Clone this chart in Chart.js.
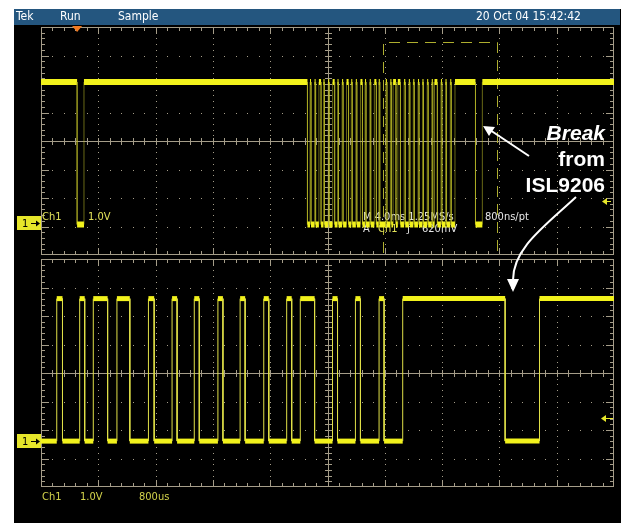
<!DOCTYPE html>
<html>
<head>
<meta charset="utf-8">
<script src="https://cdn.jsdelivr.net/npm/chart.js@4"></script>
<style>
  html, body { margin: 0; padding: 0; background: #fff; }
  #wrap { position: relative; width: 621px; height: 523px; }
  #screen { position: absolute; left: 14px; top: 9px; width: 607px; height: 514px; background: #000; }
  canvas { position: absolute; left: 0; top: 0; }
</style>
</head>
<body>
<div id="wrap">
  <div id="screen"></div>
  <canvas id="topChart" width="621" height="523"></canvas>
  <canvas id="bottomChart" width="621" height="523"></canvas>
</div>
<script>
// main timebase: 4 ms/div over 10 divisions (ms)
const mainRange = [0, 40];
// zoom window: 800 us/div (ms)
const zoomRange = [23.85, 31.85];

// logic levels (V)
const highV = 5.0;
const lowV = 0.0;

// line is high except between these times (ms)
const lowStarts = [2.52, 18.60, 18.85, 19.17, 19.55, 19.79, 20.12, 20.50, 20.77, 21.09, 21.47, 21.73,
  22.05, 22.44, 22.69, 23.02, 23.41, 23.65, 24.15, 24.46, 24.78, 25.09, 25.43, 25.75, 26.06, 26.39,
  26.70, 27.03, 27.35, 27.67, 27.99, 28.31, 28.64, 30.33];
const lowEnds = [3.00, 18.78, 19.10, 19.40, 19.72, 20.05, 20.36, 20.70, 21.02, 21.33, 21.66, 21.98,
  22.30, 22.62, 22.95, 23.27, 23.58, 24.07, 24.39, 24.58, 24.91, 25.35, 25.68, 25.99, 26.32, 26.63,
  26.96, 27.28, 27.47, 27.92, 28.24, 28.57, 28.90, 30.81];

// 1 V/div, 8 divisions, ground marker offset differs per window
const mainVolts = [-1.07, 6.93];
const zoomVolts = [-1.61, 6.39];

const yellow = '#f2f21c';
const gridColor = '#a59d89';
const scopeFont = '"Liberation Sans Narrow", "DejaVu Sans Condensed", sans-serif';

// build stepped trace
const wave = [{x: mainRange[0], y: highV}];
lowStarts.forEach((s, i) => {
    wave.push({x: s, y: highV}, {x: s, y: lowV}, {x: lowEnds[i], y: lowV}, {x: lowEnds[i], y: highV});
});
wave.push({x: mainRange[1], y: highV});

// graticule: dotted grid, centre cross and framed edges with ticks
const graticule = {
    id: 'graticule',
    beforeDatasetsDraw(chart) {
        const {ctx, chartArea: a} = chart;
        const dx = (a.right - a.left) / 10, dy = (a.bottom - a.top) / 8;
        const L = Math.round(a.left), R = Math.round(a.right) - 1;
        const T = Math.round(a.top), B = Math.round(a.bottom) - 1;
        const cx = Math.round(a.left + 5 * dx), cy = Math.round(a.top + 4 * dy);
        ctx.save();
        ctx.fillStyle = gridColor;
        for (let i = 1; i < 10; i++) {
            if (i === 5) continue;
            const x = Math.round(a.left + i * dx);
            for (let k = 1; k < 40; k++) ctx.fillRect(x, Math.round(a.top + k * dy / 5), 1, 1);
        }
        for (let j = 1; j < 8; j++) {
            if (j === 4) continue;
            const y = Math.round(a.top + j * dy);
            for (let k = 1; k < 50; k++) ctx.fillRect(Math.round(a.left + k * dx / 5), y, 1, 1);
        }
        // frame + centre lines
        ctx.fillRect(L, T, R - L + 1, 1);
        ctx.fillRect(L, B, R - L + 1, 1);
        ctx.fillRect(L, T, 1, B - T + 1);
        ctx.fillRect(R, T, 1, B - T + 1);
        ctx.fillRect(L, cy, R - L + 1, 1);
        ctx.fillRect(cx, T, 1, B - T + 1);
        // ticks along x
        for (let k = 1; k < 50; k++) {
            const x = Math.round(a.left + k * dx / 5);
            const len = k % 5 === 0 ? 7 : 4;
            ctx.fillRect(x, T, 1, len);
            ctx.fillRect(x, B - len + 1, 1, len);
            ctx.fillRect(x, cy - 3, 1, 7);
        }
        // ticks along y
        for (let k = 1; k < 40; k++) {
            const y = Math.round(a.top + k * dy / 5);
            const len = k % 5 === 0 ? 8 : 4;
            ctx.fillRect(L, y, len, 1);
            ctx.fillRect(R - len + 1, y, len, 1);
            ctx.fillRect(cx - 3, y, 7, 1);
        }
        ctx.restore();
    }
};

function groundMarker(ctx, y) {
    ctx.fillStyle = '#e6e62a';
    ctx.fillRect(17, y - 7, 24, 14);
    ctx.fillStyle = '#000';
    ctx.font = '11px ' + scopeFont;
    ctx.textBaseline = 'middle';
    ctx.textAlign = 'left';
    ctx.fillText('1', 22, y + 1);
    ctx.fillRect(31, y, 7, 1);
    ctx.beginPath();
    ctx.moveTo(40, y + 0.5); ctx.lineTo(36, y - 2.5); ctx.lineTo(36, y + 3.5); ctx.closePath();
    ctx.fill();
}

function triggerArrow(ctx, x1, x2, y) {
    ctx.fillStyle = '#e6e62a';
    ctx.fillRect(x1 + 3, y, x2 - x1 - 3, 1);
    ctx.beginPath();
    ctx.moveTo(x1, y + 0.5); ctx.lineTo(x1 + 5, y - 3); ctx.lineTo(x1 + 5, y + 4); ctx.closePath();
    ctx.fill();
}

const mainLabels = {
    id: 'mainLabels',
    beforeDatasetsDraw(chart) {
        const {ctx, chartArea: a, scales} = chart;
        ctx.save();
        // zoom window outline
        const zx0 = Math.round(scales.x.getPixelForValue(zoomRange[0])) + 0.5;
        const zx1 = Math.round(scales.x.getPixelForValue(zoomRange[1])) + 0.5;
        ctx.strokeStyle = '#aeae2e';
        ctx.lineWidth = 1;
        ctx.setLineDash([11, 7]);
        ctx.beginPath();
        ctx.moveTo(zx0, a.bottom - 2); ctx.lineTo(zx0, 42.5); ctx.lineTo(zx1, 42.5); ctx.lineTo(zx1, a.bottom - 2);
        ctx.stroke();
        ctx.setLineDash([]);

        ctx.font = '11px ' + scopeFont;
        ctx.textBaseline = 'alphabetic';
        ctx.textAlign = 'left';
        ctx.fillStyle = '#e2e25a';
        ctx.fillText('Ch1', 42, 220);
        ctx.fillText('1.0V', 88, 220);
        ctx.fillStyle = '#e8e8e8';
        ctx.fillText('M 4.0ms 1.25MS/s', 363, 220);
        ctx.fillText('800ns/pt', 485, 220);
        ctx.fillText('A', 363, 232);
        ctx.fillStyle = '#e2e25a';
        ctx.fillText('Ch1', 378, 232);
        ctx.fillStyle = '#e8e8e8';
        ctx.fillText('\u0192', 407, 232);
        ctx.fillText('620mV', 422, 232);

        groundMarker(ctx, 223);
        triggerArrow(ctx, 602, 611, 201);
        ctx.restore();
    },
    afterDraw(chart) {
        const {ctx} = chart;
        ctx.save();
        // status bar
        ctx.fillStyle = '#24567f';
        ctx.fillRect(14, 9, 606, 16);
        ctx.fillStyle = '#fff';
        ctx.font = '12px ' + scopeFont;
        ctx.textBaseline = 'middle';
        ctx.textAlign = 'left';
        ctx.fillText('Tek', 16, 17);
        ctx.fillText('Run', 60, 17);
        ctx.fillText('Sample', 118, 17);
        ctx.fillText('20 Oct 04 15:42:42', 476, 17);
        // trigger position
        ctx.fillStyle = '#f07a22';
        ctx.beginPath();
        const tx = chart.scales.x.getPixelForValue(lowStarts[0]);
        ctx.moveTo(tx - 5, 26); ctx.lineTo(tx + 5, 26); ctx.lineTo(tx, 32); ctx.closePath();
        ctx.fill();
        ctx.restore();
    }
};

const zoomLabels = {
    id: 'zoomLabels',
    beforeDatasetsDraw(chart) {
        const {ctx} = chart;
        ctx.save();
        groundMarker(ctx, 441);
        triggerArrow(ctx, 601, 613, 418);
        ctx.font = '11px ' + scopeFont;
        ctx.textBaseline = 'alphabetic';
        ctx.textAlign = 'left';
        ctx.fillStyle = '#d4d44c';
        ctx.fillText('Ch1', 42, 500);
        ctx.fillText('1.0V', 80, 500);
        ctx.fillText('800us', 139, 500);
        ctx.restore();
    },
    afterDraw(chart) {
        const {ctx} = chart;
        ctx.save();
        ctx.fillStyle = '#fff';
        ctx.strokeStyle = '#fff';
        ctx.textAlign = 'right';
        ctx.textBaseline = 'middle';
        ctx.font = 'italic bold 21px "Liberation Sans", Arial, sans-serif';
        ctx.fillText('Break', 605, 134);
        ctx.font = 'bold 21px "Liberation Sans", Arial, sans-serif';
        ctx.fillText('from', 605, 160);
        ctx.fillText('ISL9206', 605, 186);

        ctx.lineWidth = 2;
        // straight arrow to the break in the main window
        ctx.beginPath();
        ctx.moveTo(529, 156); ctx.lineTo(490, 130);
        ctx.stroke();
        ctx.beginPath();
        ctx.moveTo(483, 126); ctx.lineTo(495, 127); ctx.lineTo(489, 136); ctx.closePath();
        ctx.fill();
        // curved arrow down to the zoomed break
        ctx.beginPath();
        ctx.moveTo(576, 197);
        ctx.bezierCurveTo(545, 226, 513, 248, 513, 280);
        ctx.stroke();
        ctx.beginPath();
        ctx.moveTo(513, 292); ctx.lineTo(507, 279); ctx.lineTo(519, 279); ctx.closePath();
        ctx.fill();
        ctx.restore();
    }
};

function scopeChart(id, xRange, yRange, padding, edgeColor, levelWidth, labels) {
    return new Chart(document.getElementById(id), {
        type: 'line',
        data: {
            datasets: [{
                data: wave,
                pointRadius: 0,
                borderColor: yellow,
                borderWidth: levelWidth,
                tension: 0,
                segment: {
                    borderWidth: c => c.p0.parsed.x === c.p1.parsed.x ? 1 : levelWidth,
                    borderColor: c => c.p0.parsed.x === c.p1.parsed.x ? edgeColor : yellow
                }
            }]
        },
        options: {
            responsive: false,
            animation: false,
            events: [],
            layout: { padding: padding },
            plugins: {
                legend: { display: false },
                tooltip: { enabled: false }
            },
            scales: {
                x: { type: 'linear', min: xRange[0], max: xRange[1], display: false },
                y: { min: yRange[0], max: yRange[1], display: false }
            }
        },
        plugins: [graticule, labels]
    });
}

const mainChart = scopeChart('topChart', mainRange, mainVolts,
    { left: 41, right: 7, top: 27, bottom: 268 }, 'rgba(190, 190, 40, 0.55)', 6, mainLabels);
const zoomChart = scopeChart('bottomChart', zoomRange, zoomVolts,
    { left: 41, right: 7, top: 259, bottom: 36 }, '#e0e048', 5, zoomLabels);
</script>
</body>
</html>
